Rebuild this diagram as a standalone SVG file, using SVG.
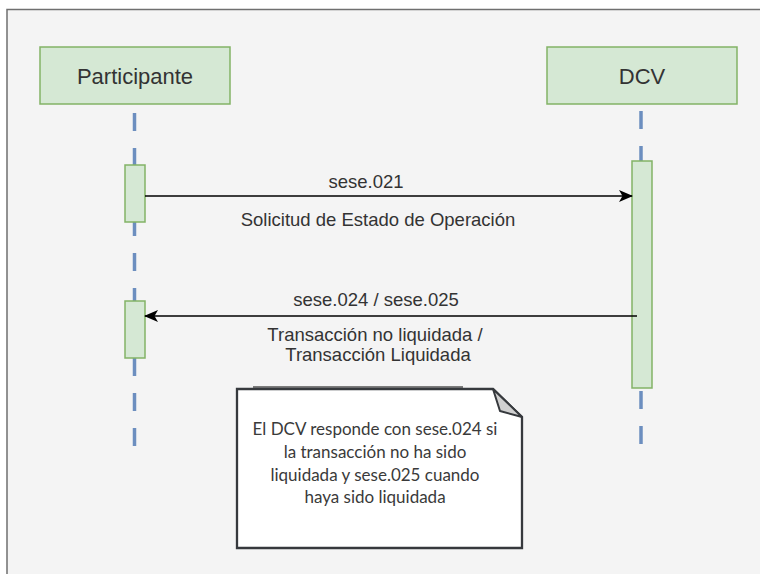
<svg xmlns="http://www.w3.org/2000/svg" width="760" height="574" viewBox="0 0 760 574">
  <style>
    .actor { fill: #d5e8d4; stroke: #82b366; stroke-width: 1.5; }
    .act { fill: #d5e8d4; stroke: #82b366; stroke-width: 1.5; }
    .life { stroke: #6c8ebf; stroke-width: 3.5; stroke-dasharray: 18 17; fill: none; }
    .hdr { font-family: "Liberation Sans", Arial, sans-serif; font-size: 22px; fill: #333333; text-anchor: middle; }
    .lbl { font-family: "Liberation Sans", Arial, sans-serif; font-size: 18.5px; fill: #333333; text-anchor: middle; }
    .msg { stroke: #000000; stroke-width: 1.7; fill: none; }
    .note { fill: #ffffff; stroke: #36393d; stroke-width: 2.3; }
    .ntxt { font-family: Lato, "Open Sans", sans-serif; font-size: 17px; fill: #3a3a3a; text-anchor: middle; }
  </style>
  <defs>
    <marker id="arr" markerWidth="14" markerHeight="12" refX="13" refY="6" orient="auto" markerUnits="userSpaceOnUse">
      <path d="M0,0 L14,6 L0,12 L3.5,6 Z" fill="#000000"/>
    </marker>
  </defs>
  <rect x="0" y="0" width="760" height="574" fill="#ffffff"/>
  <rect id="frame" x="7" y="9.5" width="770" height="580" fill="#f4f4f4" stroke="#6f6f6f" stroke-width="1.5"/>

  <g id="lifelines">
    <line class="life" x1="134.5" y1="113" x2="134.5" y2="447"/>
    <line class="life" x1="641" y1="111" x2="641" y2="447"/>
  </g>

  <g id="participante">
    <rect class="actor" x="40" y="47" width="190" height="57"/>
    <text class="hdr" x="135" y="83.5">Participante</text>
  </g>
  <g id="dcv">
    <rect class="actor" x="547" y="47" width="190" height="57"/>
    <text class="hdr" x="642" y="83.5">DCV</text>
  </g>

  <g id="act-p1"><rect class="act" x="125" y="165" width="20" height="57"/></g>
  <g id="act-p2"><rect class="act" x="125" y="301" width="20" height="57"/></g>
  <g id="act-dcv"><rect class="act" x="632" y="161" width="20" height="227"/></g>

  <g id="connectors">
    <line class="msg" x1="145" y1="196" x2="632" y2="196" marker-end="url(#arr)"/>
    <line class="msg" x1="637" y1="316" x2="145" y2="316" marker-end="url(#arr)"/>
  </g>

  <g id="labels">
    <text class="lbl" x="366" y="188">sese.021</text>
    <text class="lbl" x="378" y="226">Solicitud de Estado de Operación</text>
    <text class="lbl" x="376" y="306">sese.024 / sese.025</text>
    <text class="lbl" x="375" y="341">Transacción no liquidada /</text>
    <text class="lbl" x="378" y="361">Transacción Liquidada</text>
  </g>

  <g id="note">
    <line x1="253" y1="387" x2="463" y2="387" stroke="#555555" stroke-width="1.5"/>
    <path class="note" d="M237,389 L493,389 L522,417 L522,548 L237,548 Z"/>
    <path d="M493,389 L500,411 L522,417 Z" fill="#d0d0d0" stroke="#36393d" stroke-width="2" stroke-linejoin="round"/>
    <text class="ntxt" x="375" y="435">El DCV responde con sese.024 si</text>
    <text class="ntxt" x="375" y="458">la transacción no ha sido</text>
    <text class="ntxt" x="375" y="481">liquidada y sese.025 cuando</text>
    <text class="ntxt" x="375" y="503">haya sido liquidada</text>
  </g>
</svg>
